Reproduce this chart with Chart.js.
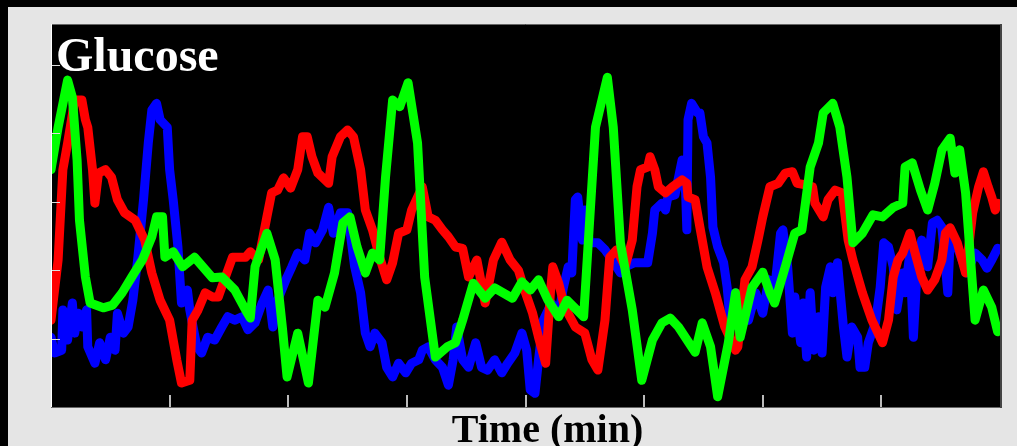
<!DOCTYPE html>
<html>
<head>
<meta charset="utf-8">
<script src="https://cdn.jsdelivr.net/npm/chart.js@4/dist/chart.umd.min.js"></script>
<style>
  html, body { margin: 0; padding: 0; background: #000; }
  #wrap { width: 1017px; height: 446px; position: relative; }
</style>
</head>
<body>
<div id="wrap"><canvas id="glucoseChart"></canvas></div>
<script>
// time in minutes, glucose level in arbitrary units
var greenT = [0, 6, 14, 18, 22, 24, 29, 33, 44, 52, 60, 68, 77, 85, 89, 94, 96, 103, 111, 121, 136, 144, 155, 164, 168, 172, 182, 189, 195, 199, 208, 217, 225, 231, 239, 246, 252, 258, 265, 271, 277, 282, 288, 294, 301, 309, 315, 324, 334, 341, 347, 356, 366, 374, 389, 397, 404, 411, 419, 428, 435, 449, 452, 459, 469, 474, 480, 490, 498, 507, 515, 522, 529, 543, 549, 556, 562, 571, 577, 581, 591, 600, 606, 610, 619, 627, 633, 640, 647, 651, 659, 665, 671, 676, 684, 693, 701, 710, 718, 720, 726, 733, 739, 745, 751, 758, 762, 766, 771, 779, 786, 793, 798];
var greenV = [3.47, 4.09, 4.78, 4.53, 3.61, 2.73, 1.90, 1.52, 1.45, 1.49, 1.67, 1.90, 2.15, 2.49, 2.78, 2.78, 2.19, 2.27, 2.05, 2.19, 1.89, 1.90, 1.71, 1.42, 1.30, 2.05, 2.54, 2.15, 1.17, 0.44, 1.08, 0.35, 1.56, 1.46, 1.96, 2.69, 2.78, 2.34, 1.96, 2.25, 2.15, 3.36, 4.49, 4.39, 4.74, 3.86, 1.90, 0.73, 0.88, 0.94, 1.27, 1.81, 1.59, 1.74, 1.59, 1.83, 1.71, 1.86, 1.56, 1.32, 1.56, 1.32, 2.15, 4.09, 4.82, 4.09, 2.40, 1.42, 0.39, 0.98, 1.23, 1.30, 1.17, 0.80, 1.23, 0.88, 0.15, 0.94, 1.67, 1.02, 1.75, 1.97, 1.67, 1.52, 2.05, 2.54, 2.59, 3.51, 3.86, 4.30, 4.44, 4.09, 3.36, 2.40, 2.54, 2.81, 2.78, 2.92, 2.98, 3.51, 3.57, 3.17, 2.88, 3.27, 3.76, 3.93, 3.42, 3.76, 3.13, 1.27, 1.71, 1.46, 1.10];

var redT = [0, 6, 10, 14, 20, 26, 29, 31, 35, 37, 40, 46, 51, 56, 62, 71, 79, 85, 92, 100, 106, 110, 117, 119, 124, 130, 136, 141, 147, 153, 164, 168, 175, 182, 186, 191, 196, 202, 208, 212, 216, 220, 225, 234, 237, 244, 250, 255, 261, 265, 271, 277, 283, 288, 293, 300, 304, 309, 313, 318, 324, 330, 335, 341, 347, 352, 359, 366, 373, 380, 387, 394, 400, 406, 411, 417, 421, 423, 428, 433, 442, 450, 456, 461, 467, 471, 477, 484, 490, 494, 497, 503, 505, 509, 512, 518, 524, 532, 536, 537, 543, 547, 553, 560, 568, 577, 579, 585, 591, 596, 600, 606, 613, 619, 625, 629, 636, 642, 644, 651, 655, 661, 667, 672, 676, 684, 692, 701, 706, 710, 714, 718, 724, 730, 734, 739, 745, 751, 754, 758, 764, 771, 777, 782, 786, 790, 793, 796, 798];
var redV = [1.27, 2.15, 3.47, 3.86, 4.49, 4.49, 4.20, 4.09, 3.47, 2.98, 3.42, 3.47, 3.36, 3.03, 2.84, 2.73, 2.44, 1.96, 1.56, 1.27, 0.69, 0.35, 0.39, 1.27, 1.42, 1.67, 1.61, 1.61, 1.90, 2.19, 2.19, 2.27, 2.15, 2.78, 3.13, 3.17, 3.35, 3.20, 3.47, 3.95, 3.95, 3.66, 3.42, 3.27, 3.66, 3.95, 4.05, 3.95, 3.47, 2.88, 2.59, 2.19, 1.86, 2.11, 2.54, 2.59, 2.88, 3.07, 3.22, 2.78, 2.73, 2.59, 2.49, 2.34, 2.32, 1.90, 2.15, 1.52, 2.15, 2.41, 2.15, 2.00, 1.67, 1.37, 1.02, 0.64, 1.67, 2.05, 1.81, 1.46, 1.17, 1.08, 0.69, 0.54, 1.27, 2.19, 2.30, 2.05, 2.44, 3.22, 3.47, 3.51, 3.66, 3.47, 3.22, 3.13, 3.22, 3.32, 3.27, 3.07, 3.03, 2.63, 2.05, 1.67, 1.17, 0.83, 0.88, 1.86, 2.05, 2.44, 2.78, 3.22, 3.27, 3.42, 3.44, 3.27, 3.25, 3.22, 2.98, 2.78, 3.03, 3.17, 3.13, 2.44, 2.15, 1.67, 1.27, 0.94, 1.27, 1.90, 2.15, 2.25, 2.54, 2.15, 1.90, 1.71, 1.86, 2.15, 2.54, 2.62, 2.40, 1.96, 2.84, 3.22, 3.44, 3.22, 3.07, 2.88, 2.98];

var blueT = [0, 3, 9, 10, 14, 18, 20, 23, 26, 30, 31, 37, 41, 46, 50, 54, 56, 61, 65, 69, 73, 78, 82, 85, 89, 92, 98, 100, 103, 107, 110, 115, 117, 123, 127, 132, 138, 144, 149, 155, 161, 166, 172, 178, 183, 187, 191, 199, 203, 208, 214, 218, 223, 229, 234, 238, 244, 250, 256, 261, 265, 269, 273, 279, 283, 288, 293, 299, 304, 310, 313, 318, 324, 330, 335, 339, 342, 347, 352, 358, 363, 368, 374, 380, 385, 391, 397, 401, 404, 408, 411, 415, 422, 428, 432, 436, 439, 442, 444, 448, 450, 454, 461, 467, 473, 480, 484, 492, 503, 507, 509, 515, 518, 520, 526, 532, 535, 536, 537, 540, 545, 547, 550, 553, 556, 558, 562, 567, 570, 573, 577, 583, 588, 594, 600, 605, 610, 615, 617, 621, 625, 627, 632, 634, 637, 640, 643, 647, 650, 653, 657, 659, 663, 668, 671, 675, 680, 682, 686, 689, 695, 699, 702, 706, 710, 713, 718, 720, 724, 727, 730, 734, 739, 743, 747, 751, 756, 758, 764, 768, 772, 779, 785, 789, 793, 798];
var blueV = [1.02, 0.79, 0.83, 1.42, 0.98, 1.52, 1.08, 1.37, 1.17, 1.42, 0.88, 0.64, 0.94, 0.69, 1.02, 0.83, 1.37, 1.08, 1.17, 1.56, 2.15, 3.03, 3.86, 4.34, 4.44, 4.20, 4.09, 3.47, 3.03, 2.34, 1.52, 1.71, 1.42, 0.88, 0.79, 1.02, 0.98, 1.17, 1.32, 1.27, 1.32, 1.13, 1.23, 1.52, 1.71, 1.17, 1.56, 1.90, 2.05, 2.25, 2.15, 2.54, 2.40, 2.59, 2.92, 2.54, 2.84, 2.84, 2.05, 1.67, 1.08, 0.88, 1.08, 0.94, 0.58, 0.44, 0.64, 0.50, 0.64, 0.69, 0.83, 0.88, 0.69, 0.58, 0.32, 0.69, 1.17, 0.69, 0.58, 0.94, 0.58, 0.54, 0.69, 0.50, 0.64, 0.79, 1.08, 0.83, 0.25, 0.20, 0.69, 1.27, 1.52, 1.37, 1.75, 2.05, 1.96, 3.03, 3.07, 2.44, 2.88, 2.40, 2.40, 2.30, 2.15, 1.96, 2.05, 2.11, 2.11, 2.54, 2.88, 2.98, 2.88, 3.07, 3.10, 3.61, 3.13, 2.59, 4.20, 4.44, 4.30, 4.30, 3.95, 3.86, 3.36, 2.63, 2.34, 2.11, 1.75, 1.17, 1.67, 1.52, 1.27, 1.67, 1.37, 1.86, 1.71, 2.54, 2.59, 2.05, 1.08, 1.61, 0.94, 1.52, 0.73, 1.67, 0.83, 1.32, 0.79, 1.75, 2.05, 1.67, 2.11, 1.17, 0.73, 1.17, 1.02, 0.58, 0.58, 0.94, 1.23, 1.75, 2.40, 2.34, 2.05, 1.42, 1.96, 1.67, 2.25, 1.02, 1.96, 2.44, 2.05, 2.69, 2.73, 2.63, 1.67, 2.44, 2.34, 2.15, 1.96, 2.25, 2.15, 2.03, 2.15, 2.32];

var xTicks = [100, 200, 300, 400, 500, 600, 700];
var yTicks = [1, 2, 3, 4, 5];

function toPoints(ts, vs) {
    return ts.map((t, i) => ({ x: t, y: vs[i] }));
}

// frame, inward tick marks and the two captions
var frame = {
    id: 'frame',
    beforeDraw(chart) {
        var c = chart.ctx, a = chart.chartArea;
        c.save();
        c.fillStyle = '#000';
        c.fillRect(0, 0, chart.width, chart.height);
        c.fillStyle = '#e5e5e5';
        c.fillRect(8, 7, chart.width - 8, chart.height - 7);
        c.fillStyle = '#000';
        c.fillRect(a.left, a.top, a.right - a.left, a.bottom - a.top);
        c.restore();
    },
    afterDraw(chart) {
        var c = chart.ctx, a = chart.chartArea;
        var xs = chart.scales.x, ys = chart.scales.y;
        c.save();
        c.lineWidth = 1;
        c.strokeStyle = '#ddd';
        yTicks.forEach(v => {
            var y = Math.round(ys.getPixelForValue(v)) + 0.5;
            c.beginPath();
            c.moveTo(a.left - 1, y);
            c.lineTo(a.left + 9, y);
            c.stroke();
        });
        c.lineWidth = 2;
        c.strokeStyle = '#bbb';
        xTicks.forEach(v => {
            var x = Math.round(xs.getPixelForValue(v));
            c.beginPath();
            c.moveTo(x, a.bottom);
            c.lineTo(x, a.bottom - 12);
            c.stroke();
        });
        c.lineWidth = 1;
        c.strokeStyle = '#666';
        c.beginPath();
        c.moveTo(a.left, a.top + 0.5);
        c.lineTo(a.right, a.top + 0.5);
        c.moveTo(a.left, a.bottom + 0.5);
        c.lineTo(a.right, a.bottom + 0.5);
        c.stroke();
        c.lineWidth = 2;
        c.strokeStyle = '#444';
        c.beginPath();
        c.moveTo(a.right + 1, a.top);
        c.lineTo(a.right + 1, a.bottom + 1);
        c.stroke();
        c.lineWidth = 1;
        c.strokeStyle = '#fff';
        c.beginPath();
        c.moveTo(a.left + 0.5, a.top);
        c.lineTo(a.left + 0.5, a.bottom);
        c.stroke();

        c.fillStyle = '#fff';
        c.font = 'bold 48px "Liberation Serif", serif';
        c.textAlign = 'left';
        c.textBaseline = 'alphabetic';
        c.fillText('Glucose', a.left + 5, a.top + 47);

        c.fillStyle = '#000';
        c.font = 'bold 40px "Liberation Serif", serif';
        c.textAlign = 'center';
        c.fillText('Time (min)', (a.left + a.right) / 2 + 22, chart.height - 4);
        c.restore();
    }
};

var ctx = document.getElementById('glucoseChart').getContext('2d');

var glucoseChart = new Chart(ctx, {
    type: 'line',
    data: {
        datasets: [
            { label: 'Green', data: toPoints(greenT, greenV), borderColor: '#00ff00' },
            { label: 'Red', data: toPoints(redT, redV), borderColor: '#ff0000' },
            { label: 'Blue', data: toPoints(blueT, blueV), borderColor: '#0000ff' }
        ]
    },
    options: {
        responsive: true,
        maintainAspectRatio: false,
        animation: false,
        parsing: true,
        layout: {
            padding: { left: 51, top: 24, right: 17, bottom: 39 }
        },
        elements: {
            line: {
                borderWidth: 9,
                tension: 0,
                borderJoinStyle: 'round',
                borderCapStyle: 'round',
                fill: false
            },
            point: { radius: 0, hoverRadius: 0 }
        },
        plugins: {
            legend: { display: false },
            tooltip: { enabled: false },
            title: { display: false }
        },
        scales: {
            x: { type: 'linear', min: 0, max: 800, display: false },
            y: { type: 'linear', min: 0, max: 5.6, display: false }
        }
    },
    plugins: [frame]
});
</script>
</body>
</html>
